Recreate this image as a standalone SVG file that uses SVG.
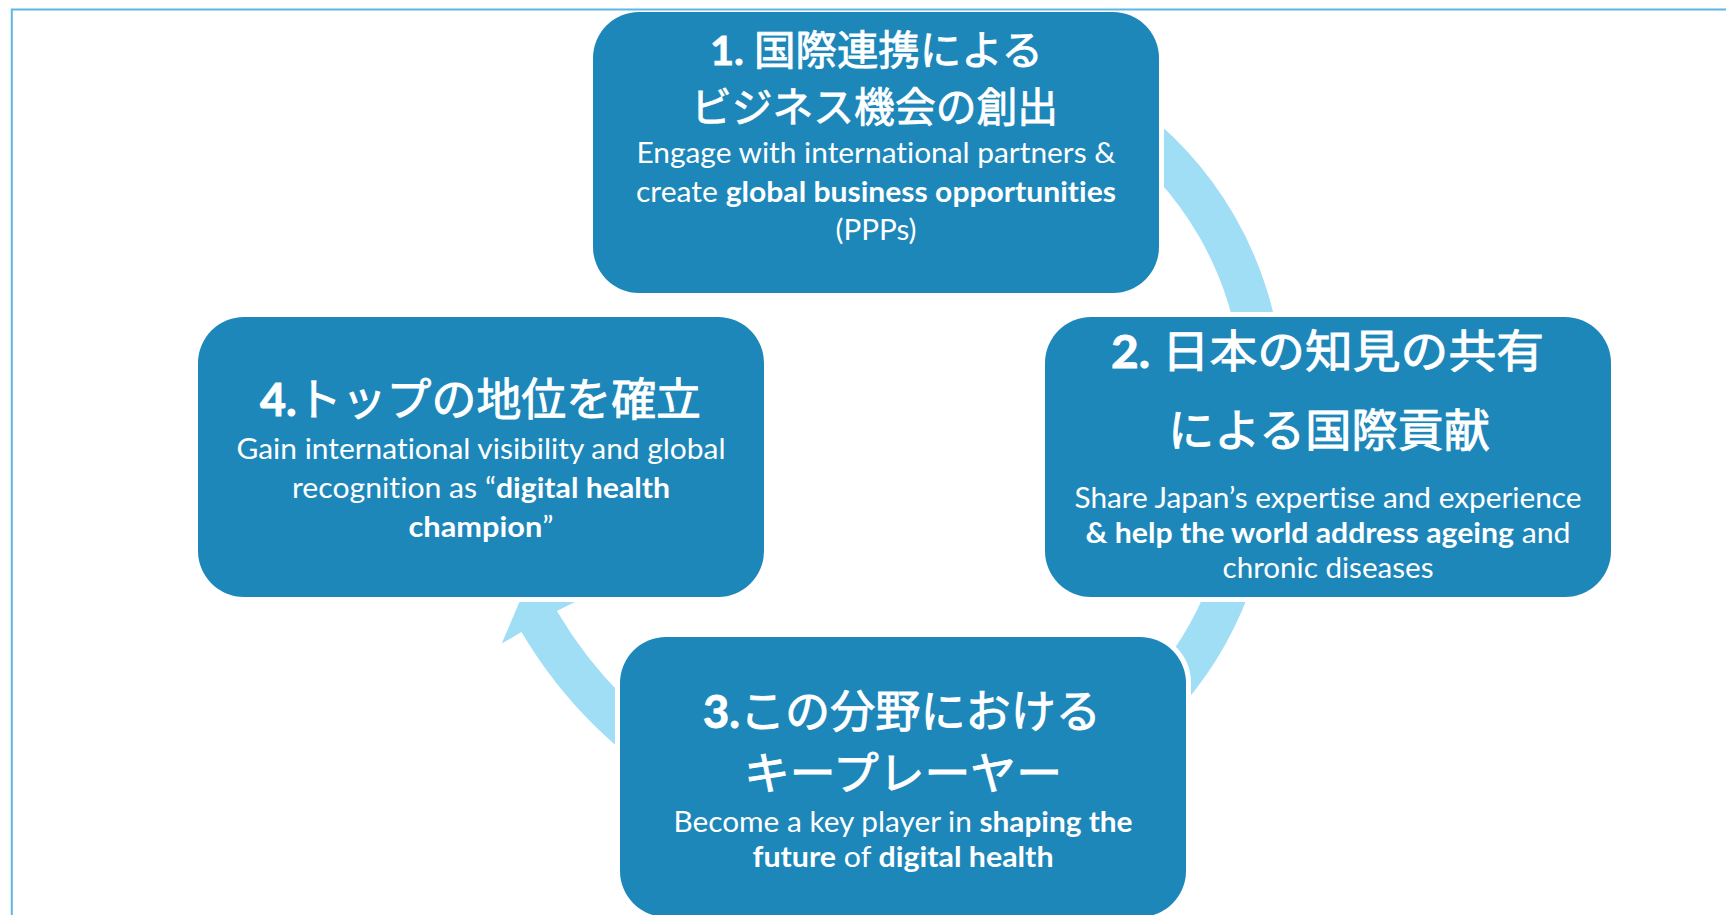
<svg xmlns="http://www.w3.org/2000/svg" width="1726" height="915" viewBox="0 0 1726 915">
<style>
.arc{fill:#A0DEF6;}
.box{fill:#1E87BA;stroke:#FFFFFF;stroke-width:10;paint-order:stroke;}
.t{font-family:Lato,"Noto Sans CJK JP","Noto Sans",sans-serif;fill:#FFFFFF;font-variant-ligatures:none;font-feature-settings:"liga" 0,"clig" 0,"dlig" 0;}
.ttl{font-size:45px;stroke:#FFFFFF;stroke-width:0.9px;}
.ttl1{font-size:41px;stroke:#FFFFFF;stroke-width:0.8px;}
.bd{font-size:29px;}
.b{font-weight:700;}
.frame{fill:none;stroke:#5BB8E5;stroke-width:2;}
</style>
<rect x="0" y="0" width="1726" height="915" fill="#FFFFFF"/>
<g id="connectors">
<path class="arc" d="M 1127.4 99 A 366 366 0 0 1 1282.1 366.9 L 1241.3 370.5 A 325 325 0 0 0 1103.9 132.6 Z"/>
<path class="arc" d="M 1259.5 560.2 A 368 368 0 0 1 1088 783.7 L 1067.5 748.2 A 327 327 0 0 0 1219.9 549.6 Z"/>
<path class="arc" d="M 687.5 796.5 A 459 459 0 0 1 521.5 631.9 L 501.7 643.6 L 522 596 L 580 599.5 L 556.9 611.1 A 418 418 0 0 0 708 761 Z"/>
</g>
<g id="node1">
<rect class="box" x="593" y="12" width="566" height="281" rx="46" ry="46"/>
<text class="t ttl1" x="710" y="65" textLength="333" lengthAdjust="spacingAndGlyphs"><tspan class="b">1. </tspan>国際連携による</text>
<text class="t ttl1" x="691" y="122" textLength="367" lengthAdjust="spacingAndGlyphs">ビジネス機会の創出</text>
<text class="t bd" x="636.5" y="163" textLength="479" lengthAdjust="spacingAndGlyphs">Engage with international partners &amp;</text>
<text class="t bd" x="636" y="202" textLength="480" lengthAdjust="spacingAndGlyphs">create <tspan class="b">global business opportunities</tspan></text>
<text class="t bd" x="835.5" y="240" textLength="81" lengthAdjust="spacingAndGlyphs">(PPPs)</text>
</g>
<g id="node2">
<rect class="box" x="1045" y="317" width="566" height="280" rx="46" ry="46"/>
<text class="t ttl" x="1111" y="368" textLength="433" lengthAdjust="spacingAndGlyphs"><tspan class="b">2. </tspan>日本の知見の共有</text>
<text class="t ttl" x="1168" y="447" textLength="322" lengthAdjust="spacingAndGlyphs">による国際貢献</text>
<text class="t bd" x="1074.5" y="508" textLength="507" lengthAdjust="spacingAndGlyphs">Share Japan’s expertise and experience</text>
<text class="t bd" x="1085.5" y="543" textLength="485" lengthAdjust="spacingAndGlyphs"><tspan class="b">&amp; help the world address ageing</tspan> and</text>
<text class="t bd" x="1222.5" y="578" textLength="211" lengthAdjust="spacingAndGlyphs">chronic diseases</text>
</g>
<g id="node3">
<rect class="box" x="620" y="637" width="566" height="280" rx="46" ry="46"/>
<text class="t ttl" x="703" y="728" textLength="398" lengthAdjust="spacingAndGlyphs"><tspan class="b">3.</tspan>この分野における</text>
<text class="t ttl" x="744" y="790" textLength="318" lengthAdjust="spacingAndGlyphs">キープレーヤー</text>
<text class="t bd" x="673.5" y="832" textLength="459" lengthAdjust="spacingAndGlyphs">Become a key player in <tspan class="b">shaping the</tspan></text>
<text class="t bd" x="752.5" y="867" textLength="301" lengthAdjust="spacingAndGlyphs"><tspan class="b">future</tspan> of <tspan class="b">digital health</tspan></text>
</g>
<g id="node4">
<rect class="box" x="198" y="317" width="566" height="280" rx="46" ry="46"/>
<text class="t ttl" x="260" y="416" textLength="441" lengthAdjust="spacingAndGlyphs"><tspan class="b">4.</tspan>トップの地位を確立</text>
<text class="t bd" x="236.5" y="459" textLength="489" lengthAdjust="spacingAndGlyphs">Gain international visibility and global</text>
<text class="t bd" x="292" y="498" textLength="378" lengthAdjust="spacingAndGlyphs">recognition as “<tspan class="b">digital health</tspan></text>
<text class="t bd" x="408.5" y="537" textLength="145" lengthAdjust="spacingAndGlyphs"><tspan class="b">champion</tspan>”</text>
</g>
<path class="frame" d="M 11.8 915 V 9.5 H 1726"/>
</svg>
